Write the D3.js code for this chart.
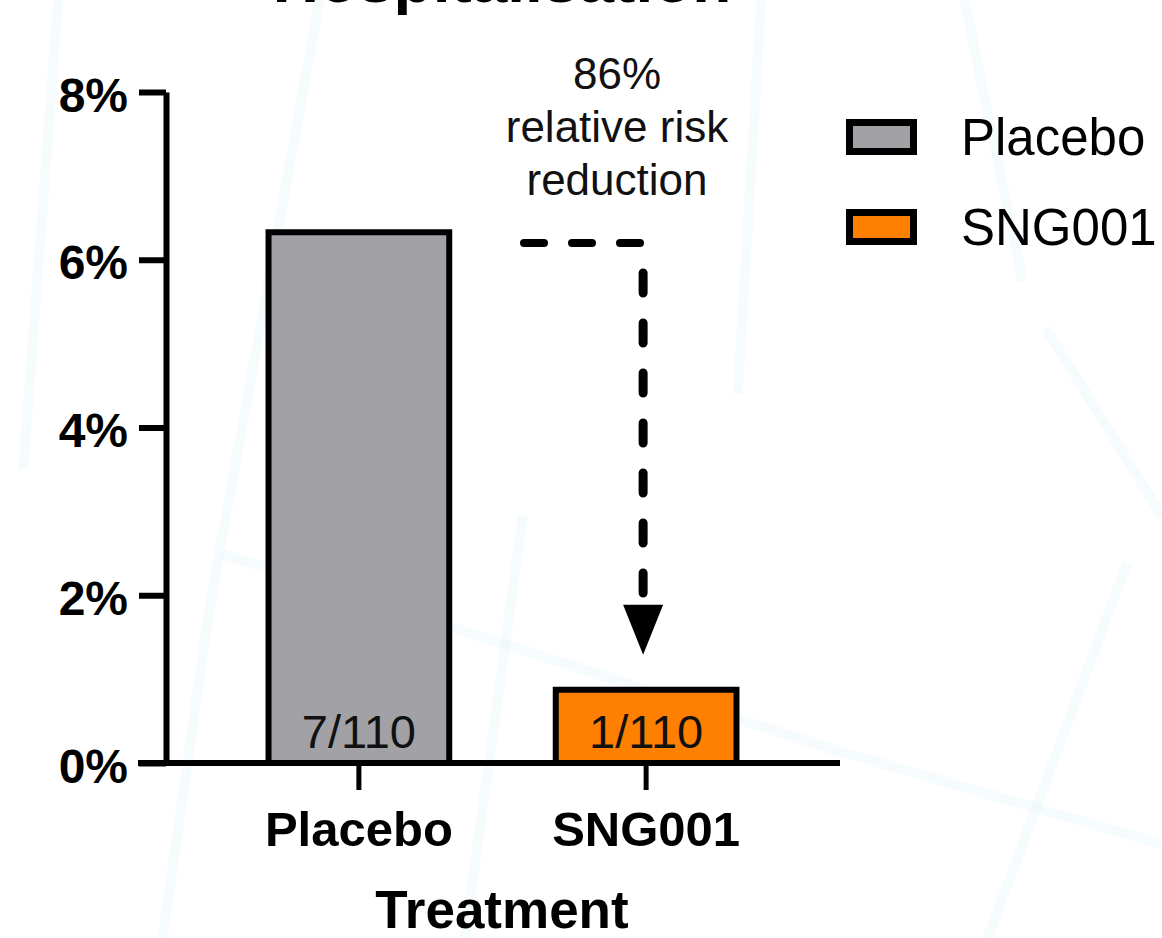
<!DOCTYPE html>
<html>
<head>
<meta charset="utf-8">
<script src="https://cdn.jsdelivr.net/npm/d3@7"></script>
<style>
  html, body { margin: 0; padding: 0; background: #ffffff; }
  svg { display: block; font-family: "Liberation Sans", Arial, Helvetica, sans-serif; }
</style>
</head>
<body>
<svg id="chart" width="1162" height="938"></svg>
<script>
// ---------- data ----------
const categories = ["Placebo", "SNG001"];
const rates = [7 / 110 * 100, 1 / 110 * 100];      // hospitalisation rate, %
const barLabels = ["7/110", "1/110"];
const barColors = ["#a2a1a6", "#ff8000"];
const yTicks = [0, 2, 4, 6, 8];
const yTickLabels = ["0%", "2%", "4%", "6%", "8%"];
const annotationLines = ["86%", "relative risk", "reduction"];
const arrowFrom = 6.2;   // % level of the dashed connector
const arrowTo = 1.29;    // % level of arrow tip
const titleText = "Hospitalisation";
const xTitle = "Treatment";

// ---------- layout ----------
const W = 1162, H = 938;
const svg = d3.select("#chart");
const axisX = 166, tickLen = 27;
const x = d3.scaleBand().domain(categories).range([165, 840]).paddingInner(0.35).paddingOuter(0.35);
const y = d3.scaleLinear().domain([0, 8]).range([763, 92]);

// faint decorative background strokes (fractions of canvas)
const bgStrokes = [
  [0.275, 0.0, 0.18, 0.65], [0.18, 0.65, 0.14, 1.0],
  [0.655, 0.0, 0.635, 0.42], [0.83, 0.0, 0.88, 0.30],
  [0.19, 0.59, 0.72, 0.80], [0.72, 0.80, 1.0, 0.90],
  [0.90, 0.35, 1.0, 0.55], [0.05, 0.0, 0.02, 0.5],
  [0.45, 0.55, 0.40, 1.0], [0.97, 0.6, 0.85, 1.0]
];
svg.append("g").selectAll("line").data(bgStrokes).join("line")
  .attr("x1", d => d[0] * W).attr("y1", d => d[1] * H)
  .attr("x2", d => d[2] * W).attr("y2", d => d[3] * H)
  .attr("stroke", "#e8f5fb").attr("stroke-width", 10).attr("opacity", 0.35);

// title (clipped at top in the original)
svg.append("text").attr("x", 502).attr("y", 2).attr("text-anchor", "middle")
  .attr("font-size", 64).attr("font-weight", "bold").attr("fill", "#000").text(titleText);

// bars (stroke drawn inside)
const sw = 6;
const bars = svg.append("g");
bars.selectAll("rect").data(categories).join("rect")
  .attr("x", (d) => x(d) + sw / 2)
  .attr("width", x.bandwidth() - sw)
  .attr("y", (d, i) => y(rates[i]) + sw / 2)
  .attr("height", (d, i) => y(0) - y(rates[i]) - sw / 2)
  .attr("fill", (d, i) => barColors[i])
  .attr("stroke", "#000").attr("stroke-width", sw);

bars.selectAll("text").data(barLabels).join("text")
  .attr("x", (d, i) => x(categories[i]) + x.bandwidth() / 2)
  .attr("y", y(0) - 15)
  .attr("text-anchor", "middle").attr("font-size", 47).attr("fill", "#111")
  .text(d => d);

// y axis
const yAxis = svg.append("g").attr("transform", `translate(${axisX},0)`)
  .call(d3.axisLeft(y).tickValues(yTicks).tickSize(tickLen).tickSizeOuter(0)
    .tickFormat((d, i) => yTickLabels[i]));
yAxis.select(".domain").attr("stroke", "#000").attr("stroke-width", 6);
yAxis.selectAll(".tick line").attr("stroke", "#000").attr("stroke-width", 6);
yAxis.selectAll(".tick text").attr("x", -38).attr("dy", "0.4em")
  .attr("font-size", 48).attr("font-weight", "bold").attr("fill", "#000")
  .attr("font-family", "'Liberation Sans', Arial, sans-serif");

// x axis
const xAxis = svg.append("g").attr("transform", `translate(0,${y(0)})`)
  .call(d3.axisBottom(x).tickSize(tickLen).tickSizeOuter(0));
xAxis.select(".domain").remove();
xAxis.append("line").attr("x1", axisX - tickLen - 1).attr("x2", x.range()[1])
  .attr("y1", 0).attr("y2", 0).attr("stroke", "#000").attr("stroke-width", 6);
xAxis.selectAll(".tick line").attr("stroke", "#000").attr("stroke-width", 5);
xAxis.selectAll(".tick text").attr("y", 83).attr("dy", 0)
  .attr("font-size", 49).attr("font-weight", "bold").attr("fill", "#000")
  .attr("font-family", "'Liberation Sans', Arial, sans-serif");

svg.append("text").attr("x", 502).attr("y", 928).attr("text-anchor", "middle")
  .attr("font-size", 53).attr("font-weight", "bold").attr("fill", "#000").text(xTitle);

// annotation: dashed connector + arrow
const cx = x(categories[1]) + x.bandwidth() / 2 - 3;
const yFrom = y(arrowFrom);
const tipY = y(arrowTo);
const headH = 50, headW = 40;
svg.append("line").attr("x1", 524).attr("x2", cx - 2).attr("y1", yFrom).attr("y2", yFrom)
  .attr("stroke", "#000").attr("stroke-width", 8).attr("stroke-linecap", "round")
  .attr("stroke-dasharray", "20,28");
svg.append("line").attr("x1", cx).attr("x2", cx).attr("y1", yFrom + 30).attr("y2", tipY - headH - 8)
  .attr("stroke", "#000").attr("stroke-width", 9).attr("stroke-linecap", "round")
  .attr("stroke-dasharray", "20,30");
svg.append("path")
  .attr("d", `M${cx - headW / 2},${tipY - headH} L${cx + headW / 2},${tipY - headH} L${cx},${tipY} Z`)
  .attr("fill", "#000");

svg.append("g").selectAll("text").data(annotationLines).join("text")
  .attr("x", 617).attr("y", (d, i) => 89 + i * 53)
  .attr("text-anchor", "middle").attr("font-size", 44).attr("fill", "#111")
  .text(d => d);

// legend
const leg = svg.append("g");
const legItems = leg.selectAll("g").data(categories).join("g")
  .attr("transform", (d, i) => `translate(846,${119 + i * 90})`);
legItems.append("rect").attr("x", 3.5).attr("y", 3.5).attr("width", 64).attr("height", 29)
  .attr("fill", (d, i) => barColors[i]).attr("stroke", "#000").attr("stroke-width", 7);
legItems.append("text").attr("x", 115).attr("y", 36)
  .attr("font-size", 51).attr("fill", "#000").text(d => d);
</script>
</body>
</html>
